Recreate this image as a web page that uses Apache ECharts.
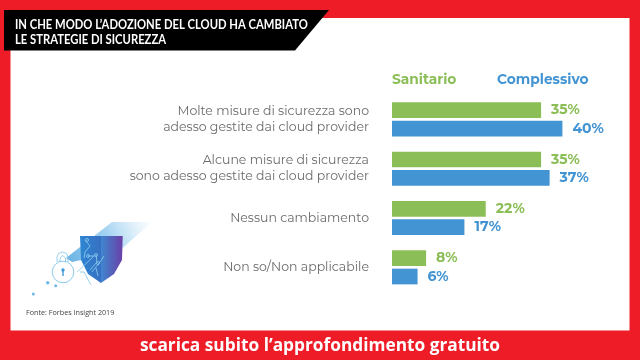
<!DOCTYPE html>
<html>
<head>
<meta charset="utf-8">
<style>html,body{margin:0;padding:0;background:#fff}#main{width:640px;height:360px}</style>
<script src="https://cdn.jsdelivr.net/npm/echarts@6/dist/echarts.min.js"></script>
</head>
<body>
<div id="main"></div>
<script>
var categories=['Molte misure di sicurezza sono\nadesso gestite dai cloud provider','Alcune misure di sicurezza\nsono adesso gestite dai cloud provider','Nessun cambiamento','Non so/Non applicabile']
var sanitario=[35,35,22,8]
var complessivo=[40,37,17,6]
var titolo='IN CHE MODO L\u2019ADOZIONE DEL CLOUD HA CAMBIATO\nLE STRATEGIE DI SICUREZZA'
var fonte='Fonte: Forbes Insight 2019'
var footer='scarica subito l\u2019approfondimento gratuito'

var verde='#8cbe57'
var blu='#4394d2'
var rosso='#ed1c27'
var azzurro='#7cc4e8'
var font='Montserrat,"Open Sans",sans-serif'

function serie(name,data,color){
	return {
		name:name,
		type:'bar',
		data:data,
		barWidth:15.7,
		barGap:'17%',
		itemStyle:{color:color},
		label:{
			show:true,
			position:'right',
			distance:10,
			formatter:'{c}%',
			color:color,
			fontFamily:font,
			fontWeight:'bold',
			fontSize:14
		}
	}
}

function legenda(name,left,color){
	return {data:[name],left:left,top:68,icon:'none',itemWidth:0,selectedMode:false,textStyle:{color:color,fontSize:13.8,fontWeight:'bold',fontFamily:font}}
}

function linea(points,color){
	return {type:'polyline',z:-3,silent:true,shape:{points:points},style:{stroke:color,fill:'none',lineWidth:0.8}}
}

function anello(cx,cy){
	return {type:'circle',z:-3,silent:true,shape:{cx:cx,cy:cy,r:1.5},style:{stroke:'#8fd0f0',fill:'none',lineWidth:0.8}}
}

function punto(cx,cy,r){
	return {type:'circle',z:-4,silent:true,shape:{cx:cx,cy:cy,r:r},style:{fill:'#6db7e6'}}
}

//sfondo, fascia del titolo e piccola icona dello scudo
function grafica(){
	var raggio={type:'linear',x:1,y:0,x2:0,y2:1,colorStops:[{offset:0,color:'rgba(150,205,240,0)'},{offset:0.5,color:'rgba(120,190,235,0.7)'},{offset:1,color:'rgba(90,170,225,0.9)'}]}
	var sinistra={type:'linear',x:0,y:0,x2:1,y2:0,colorStops:[{offset:0,color:'#2f86d2'},{offset:1,color:'#3770c2'}]}
	var destra={type:'linear',x:0,y:0,x2:1,y2:0,colorStops:[{offset:0,color:'#3f86d0'},{offset:1,color:'#6a3fa6'}]}
	return [
		{type:'rect',z:-10,silent:true,shape:{x:0,y:0,width:640,height:360},style:{fill:rosso}},
		{type:'rect',z:-9,silent:true,shape:{x:10.5,y:18,width:619,height:312.5},style:{fill:'#fff'}},
		{type:'polygon',z:-8,silent:true,shape:{points:[[4,10],[329,10],[295,50.5],[4,50.5]]},style:{fill:'#000'}},
		{type:'text',z:-7,silent:true,x:15,y:17,scaleX:0.9,style:{text:titolo,fill:'#fff',font:'bold 12.5px Lato',lineHeight:15.5}},
		{type:'text',z:5,silent:true,style:{x:320,y:346,text:footer,fill:'#fff',font:'bold 17.3px "Open Sans"',align:'center',verticalAlign:'middle'}},
		{type:'text',z:5,silent:true,style:{x:26,y:312.5,text:fonte,fill:'#444',font:'7.2px "Open Sans"',verticalAlign:'middle'}},
		{type:'polygon',z:-6,silent:true,shape:{points:[[112,222],[152,222],[118,252],[72,262],[66,258]]},style:{fill:raggio}},
		{type:'polygon',z:-5,silent:true,shape:{points:[[80,236],[101,236],[101,283],[88,274],[81,260]]},style:{fill:sinistra}},
		{type:'polygon',z:-5,silent:true,shape:{points:[[101,236],[122.7,236],[122,260],[114,274],[101,283]]},style:{fill:destra}},
		{type:'circle',z:-4,silent:true,shape:{cx:63,cy:272,r:10.8},style:{fill:'rgba(255,255,255,0.75)',stroke:azzurro,lineWidth:0.9}},
		linea([[57,262],[57,257],[58.5,253.5],[62.7,252],[66.5,253.5],[68,257],[68,262]],azzurro),
		linea([[60,262],[60,258],[62.7,255.5],[65.5,258],[65.5,262]],azzurro),
		{type:'circle',z:-4,silent:true,shape:{cx:63,cy:270,r:1.7},style:{fill:'#3f9bd8'}},
		{type:'rect',z:-4,silent:true,shape:{x:62.3,y:270,width:1.4,height:6},style:{fill:'#3f9bd8'}},
		punto(47.7,282.7,1.7),
		punto(55.7,285.7,1.5),
		punto(33.3,294,1.5),
		linea([[80,272],[84,272],[91,285]],azzurro),
		linea([[85,240],[90,246],[85,252],[84,258]],'#8fd0f0'),
		linea([[88,256],[94,256],[77,272]],'#8fd0f0'),
		linea([[96,255],[97,262],[90,270]],'#8fd0f0'),
		linea([[104,256],[100,262],[92,272]],'#8fd0f0'),
		linea([[96,268],[98,276]],'#8fd0f0'),
		anello(87,240),
		anello(88,256),
		anello(96,255),
		anello(98,263)
	]
}

var mychart=echarts.init(document.getElementById('main'),null,{renderer:'canvas'})
var option={
	animation:false,
	backgroundColor:'#fff',
	grid:{left:392,top:94.7,width:213,height:197.3},
	legend:[legenda('Sanitario',382,verde),legenda('Complessivo',487,blu)],
	xAxis:{type:'value',min:0,max:50,show:false},
	yAxis:{
		type:'category',
		inverse:true,
		data:categories,
		axisLine:{show:false},
		axisTick:{show:false},
		axisLabel:{margin:23,color:'#6b6b6b',fontSize:12.5,lineHeight:16,align:'right',fontFamily:font}
	},
	series:[serie('Sanitario',sanitario,verde),serie('Complessivo',complessivo,blu)],
	graphic:grafica()
}
mychart.setOption(option)
</script>
</body>
</html>
